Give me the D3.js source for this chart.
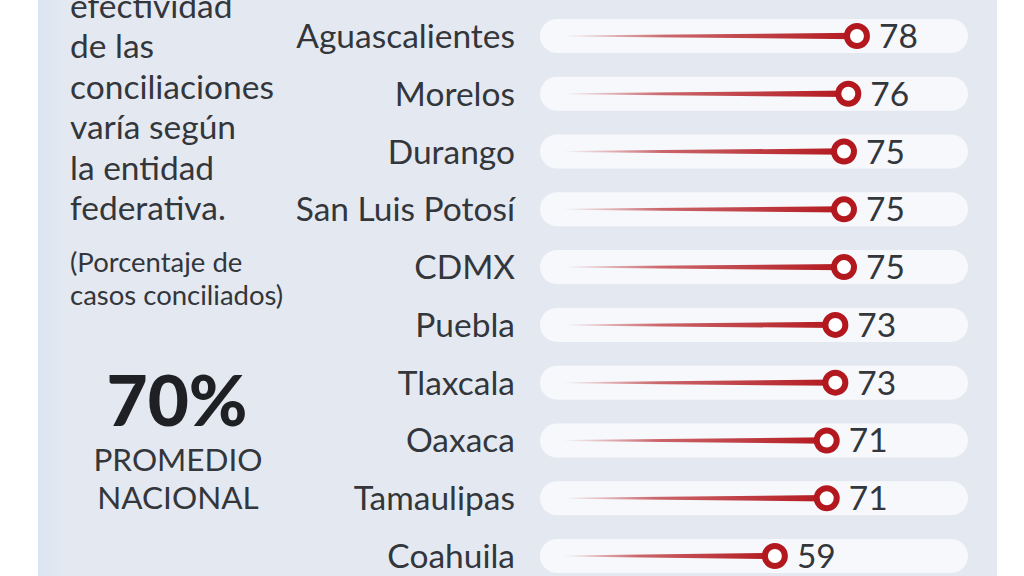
<!DOCTYPE html>
<html><head><meta charset="utf-8">
<script src="https://cdn.jsdelivr.net/npm/d3@7"></script>
<style>
html,body{margin:0;padding:0;background:#fff;}
svg{display:block;}
</style></head>
<body>
<svg id="chart" width="1024" height="576"></svg>
<script>
const states = ["Aguascalientes","Morelos","Durango","San Luis Potosí","CDMX","Puebla","Tlaxcala","Oaxaca","Tamaulipas","Coahuila"];
const values = [78,76,75,75,75,73,73,71,71,59];
const introLines = ["efectividad","de las","conciliaciones","varía según","la entidad","federativa."];
const noteLines = ["(Porcentaje de","casos conciliados)"];
const average = "70%";
const averageLines = ["PROMEDIO","NACIONAL"];

const svg = d3.select("#chart");
const font = "Lato, 'Open Sans', sans-serif";
const red = "#b3181e";
const textCol = "#33363b";

// panel
svg.append("rect").attr("x",38).attr("y",0).attr("width",959).attr("height",576).attr("fill","#e4e9f1");
const defs = svg.append("defs");
const edge = defs.append("linearGradient").attr("id","edge");
edge.append("stop").attr("offset","0").attr("stop-color","#dbe5f2");
edge.append("stop").attr("offset","1").attr("stop-color","#e4e9f1");
svg.append("rect").attr("x",38).attr("y",0).attr("width",30).attr("height",576).attr("fill","url(#edge)");

const x = d3.scaleLinear().domain([0,100]).range([520,952]);
const y = d3.scalePoint().domain(states).range([36,556]);

// gradient for the lines
const lg = defs.append("linearGradient").attr("id","fade").attr("x1","0").attr("x2","1").attr("y1","0").attr("y2","0");
lg.append("stop").attr("offset","0").attr("stop-color",red).attr("stop-opacity",0);
lg.append("stop").attr("offset","0.35").attr("stop-color",red).attr("stop-opacity",0.65);
lg.append("stop").attr("offset","1").attr("stop-color",red).attr("stop-opacity",1);

const rows = svg.append("g").selectAll("g").data(states).join("g")
  .attr("transform", d => `translate(0,${y(d)})`);

// track pills
rows.append("rect").attr("x",540).attr("y",-17).attr("width",428).attr("height",34).attr("rx",17)
  .attr("fill","#f6f8fb");

// tapered lines
rows.append("path")
  .attr("d",(d,i) => {
    const x0 = x(10), x1 = x(values[i]);
    return `M${x0},${-0.5}L${x1},${-3.2}L${x1},${3.2}L${x0},${0.5}Z`;
  })
  .attr("fill","url(#fade)");

// ring markers
rows.append("circle").attr("cx",(d,i)=>x(values[i])).attr("cy",0).attr("r",10)
  .attr("fill","#ffffff").attr("stroke",red).attr("stroke-width",6);

// value labels
rows.append("text").attr("x",(d,i)=>x(values[i])+22).attr("y",12)
  .attr("font-family",font).attr("font-size",33.5).attr("fill",textCol)
  .text((d,i)=>values[i]);

// state labels
rows.append("text").attr("x",515).attr("y",12).attr("text-anchor","end")
  .attr("font-family",font).attr("font-size",33.5).attr("fill",textCol)
  .text(d=>d);

// intro text
svg.append("g").selectAll("text").data(introLines).join("text")
  .attr("x",70).attr("y",(d,i)=>18+i*40.4)
  .attr("font-family",font).attr("font-size",33.5).attr("fill",textCol)
  .text(d=>d);

svg.append("g").selectAll("text").data(noteLines).join("text")
  .attr("x",70).attr("y",(d,i)=>272+i*33)
  .attr("font-family",font).attr("font-size",27.5).attr("fill",textCol)
  .text(d=>d);

svg.append("text").attr("x",177).attr("y",426).attr("text-anchor","middle")
  .attr("font-family",font).attr("font-weight",900).attr("font-size",71).attr("fill","#1f2023")
  .text(average);

svg.append("g").selectAll("text").data(averageLines).join("text")
  .attr("x",178).attr("y",(d,i)=>471+i*37.5).attr("text-anchor","middle")
  .attr("font-family",font).attr("font-size",31.5).attr("fill",textCol)
  .text(d=>d);
</script>
</body></html>
